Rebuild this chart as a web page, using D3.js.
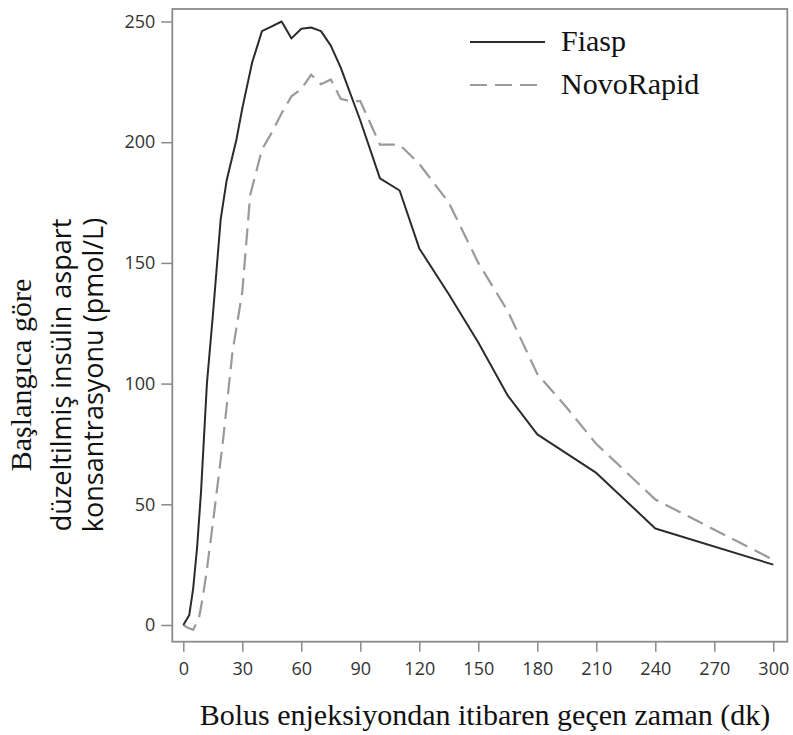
<!DOCTYPE html>
<html lang="tr">
<head>
<meta charset="UTF-8">
<title>Fiasp vs NovoRapid</title>
<script src="https://d3js.org/d3.v7.min.js"></script>
<style>
  body { margin: 0; background: #fff; }
  .axis path { display: none; }
  .axis line { stroke: #8a8a8a; stroke-width: 1.5; }
  .axis text { font-family: "Open Sans", sans-serif; font-size: 18px; fill: #333; }
  .serif { font-family: "Liberation Serif", "Times New Roman", serif; fill: #111; }
  .sans { font-family: "Open Sans", sans-serif; fill: #111; }
</style>
</head>
<body>
<svg width="793" height="735"></svg>
<script>
// time in minutes after bolus
const fiaspTime = [0, 3, 5, 7, 9, 12, 15, 19, 22, 27, 30, 35, 40, 45, 50, 55, 60, 65, 70, 75, 80, 90, 100, 110, 120, 135, 150, 165, 180, 210, 240, 300];
const fiaspConc = [0, 4, 15, 32, 55, 100, 128, 168, 184, 201, 214, 233, 246, 248, 250, 243, 247, 247.5, 246, 240, 231, 209, 185, 180, 156, 137, 117, 95, 79, 63, 40, 25];

const novoTime = [0, 2, 5, 8, 10, 12, 15, 20, 25, 30, 34, 40, 45, 50, 55, 60, 65, 70, 75, 80, 85, 90, 100, 110, 120, 135, 150, 165, 180, 195, 210, 240, 300];
const novoConc = [0, -1, -2, 3, 12, 23, 42, 75, 113, 138, 178, 197, 204, 212, 219, 222, 228, 224, 226, 218, 217, 217, 199, 199, 191, 175, 150, 130, 104, 90, 75, 52, 27];

const xTicks = [0, 30, 60, 90, 120, 150, 180, 210, 240, 270, 300];
const yTicks = [0, 50, 100, 150, 200, 250];

const seriesNames = ["Fiasp", "NovoRapid"];
const yTitleLines = ["Başlangıca göre", "düzeltilmiş insülin aspart", "konsantrasyonu  (pmol/L)"];
const xTitle = "Bolus enjeksiyondan itibaren geçen zaman (dk)";

const svg = d3.select("svg");
const frame = {left: 172.3, top: 9, right: 787.3, bottom: 641.7};

const x = d3.scaleLinear().domain([0, 300]).range([183.3, 773.3]);
const y = d3.scaleLinear().domain([0, 250]).range([625, 21.5]);

// box around plot
svg.append("rect")
  .attr("x", frame.left).attr("y", frame.top)
  .attr("width", frame.right - frame.left)
  .attr("height", frame.bottom - frame.top)
  .attr("fill", "none")
  .attr("stroke", "#8a8a8a")
  .attr("stroke-width", 1.8);

svg.append("g")
  .attr("class", "axis")
  .attr("transform", `translate(${frame.left},0)`)
  .call(d3.axisLeft(y).tickValues(yTicks).tickSize(11).tickPadding(6));

svg.append("g")
  .attr("class", "axis")
  .attr("transform", `translate(0,${frame.bottom})`)
  .call(d3.axisBottom(x).tickValues(xTicks).tickSize(10).tickPadding(11));

const line = d3.line()
  .x(d => x(d[0]))
  .y(d => y(d[1]));

svg.append("path")
  .datum(novoTime.map((t, i) => [t, novoConc[i]]))
  .attr("d", line)
  .attr("fill", "none")
  .attr("stroke", "#9a9a9a")
  .attr("stroke-width", 2.2)
  .attr("stroke-dasharray", "17,8");

svg.append("path")
  .datum(fiaspTime.map((t, i) => [t, fiaspConc[i]]))
  .attr("d", line)
  .attr("fill", "none")
  .attr("stroke", "#2b2b2b")
  .attr("stroke-width", 2)
  .attr("stroke-linejoin", "round");

// legend
const legend = svg.append("g");
const legStyles = [
  {stroke: "#2b2b2b", dash: null, y: 42},
  {stroke: "#9a9a9a", dash: "17,8", y: 85}
];
seriesNames.forEach((name, i) => {
  const s = legStyles[i];
  legend.append("line")
    .attr("x1", 470).attr("x2", 545)
    .attr("y1", s.y).attr("y2", s.y)
    .attr("stroke", s.stroke)
    .attr("stroke-width", 2.2)
    .attr("stroke-dasharray", s.dash);
  legend.append("text")
    .attr("class", "serif")
    .attr("x", 561).attr("y", s.y + 9)
    .attr("font-size", 30)
    .text(name);
});

// axis titles
svg.append("text")
  .attr("class", "serif")
  .attr("x", 485).attr("y", 725)
  .attr("text-anchor", "middle")
  .attr("font-size", 30)
  .text(xTitle);

const yTitleX = [31, 71, 103];
yTitleLines.forEach((t, i) => {
  svg.append("text")
    .attr("class", i === 0 ? "serif" : "sans")
    .attr("transform", `translate(${yTitleX[i]},375) rotate(-90)`)
    .attr("text-anchor", "middle")
    .attr("font-size", i === 0 ? 30 : 27)
    .text(t);
});
</script>
</body>
</html>
